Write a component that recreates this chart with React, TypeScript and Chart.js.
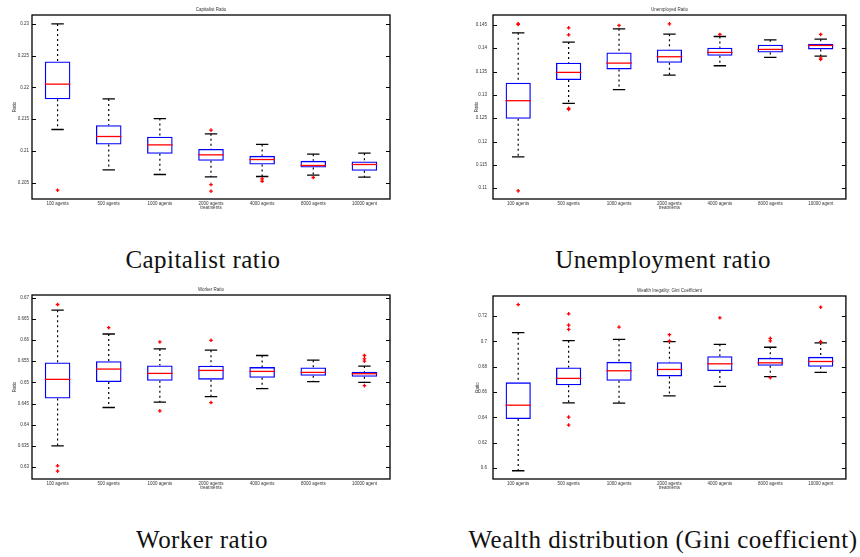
import React, { useEffect, useRef } from 'react';
import { Chart, registerables } from 'chart.js';

Chart.register(...registerables);

const categories = ['100 agents', '500 agents', '1000 agents', '2000 agents', '4000 agents', '8000 agents', '10000 agent'];

// Capitalist ratio
const capLower = [0.21335, 0.2070, 0.20626, 0.2059, 0.20595, 0.20616, 0.20584];
const capQ1 = [0.21813, 0.21099, 0.20952, 0.20841, 0.20784, 0.20736, 0.20684];
const capMedian = [0.2205, 0.21225, 0.21093, 0.20936, 0.20862, 0.20768, 0.20784];
const capQ3 = [0.22406, 0.21403, 0.2122, 0.2103, 0.2092, 0.20841, 0.2083];
const capUpper = [0.2300, 0.21818, 0.21508, 0.21267, 0.2110, 0.20946, 0.20962];
const capOutliers = [[0.20379], [], [], [0.21325, 0.20468, 0.20363], [0.20558, 0.2052], [0.20579], []];
const capTicks = [0.205, 0.21, 0.215, 0.22, 0.225, 0.23];
const capTickLabels = ['0.205', '0.21', '0.215', '0.22', '0.225', '0.23'];

// Unemployed ratio
const unLower = [0.1167, 0.12818, 0.1311, 0.13424, 0.13623, 0.13801, 0.1383];
const unQ1 = [0.1249, 0.13317, 0.13545, 0.13687, 0.13837, 0.13908, 0.13973];
const unMedian = [0.12875, 0.13481, 0.1368, 0.13816, 0.13908, 0.13973, 0.14058];
const unQ3 = [0.1326, 0.13687, 0.13908, 0.13973, 0.14008, 0.14072, 0.14094];
const unUpper = [0.14329, 0.1413, 0.14414, 0.143, 0.1425, 0.14179, 0.14193];
const unOutliers = [[0.1452, 0.1451, 0.10943], [0.14436, 0.14286, 0.12711, 0.1269], [0.14486], [0.1452], [0.14293], [], [0.14293, 0.13787, 0.13759]];
const unTicks = [0.11, 0.115, 0.12, 0.125, 0.13, 0.135, 0.14, 0.145];
const unTickLabels = ['0.11', '0.115', '0.12', '0.125', '0.13', '0.135', '0.14', '0.145'];

// Worker ratio
const wkLower = [0.635, 0.64406, 0.64531, 0.64664, 0.64852, 0.65016, 0.65];
const wkQ1 = [0.64617, 0.65008, 0.65039, 0.65063, 0.65109, 0.65156, 0.65133];
const wkMedian = [0.6507, 0.65313, 0.65211, 0.65281, 0.65258, 0.65234, 0.65203];
const wkQ3 = [0.65469, 0.655, 0.65398, 0.65391, 0.65359, 0.65352, 0.6525];
const wkUpper = [0.66703, 0.6614, 0.65789, 0.65758, 0.65633, 0.65523, 0.65383];
const wkOutliers = [[0.66836, 0.63031, 0.62906], [0.66289], [0.65953, 0.64328], [0.65992, 0.64523], [], [], [0.65633, 0.65555, 0.655, 0.64922]];
const wkTicks = [0.63, 0.635, 0.64, 0.645, 0.65, 0.655, 0.66, 0.665, 0.67];
const wkTickLabels = ['0.63', '0.635', '0.64', '0.645', '0.65', '0.655', '0.66', '0.665', '0.67'];

// Gini coefficient
const giLower = [0.59791, 0.6515, 0.65124, 0.65699, 0.66458, 0.67216, 0.67556];
const giQ1 = [0.63869, 0.66536, 0.66902, 0.67242, 0.6766, 0.68078, 0.68];
const giMedian = [0.64967, 0.67085, 0.67686, 0.67791, 0.68235, 0.68314, 0.68418];
const giQ3 = [0.66771, 0.67948, 0.68392, 0.68366, 0.68837, 0.68706, 0.68784];
const giUpper = [0.70693, 0.70065, 0.7017, 0.69987, 0.69778, 0.69542, 0.69882];
const giOutliers = [[0.72915], [0.72183, 0.71294, 0.70954, 0.64026, 0.63399], [0.71137], [0.70536, 0.70039], [0.71869], [0.70248, 0.70039, 0.67137], [0.72706, 0.69987]];
const giTicks = [0.6, 0.62, 0.64, 0.66, 0.68, 0.7, 0.72];
const giTickLabels = ['0.6', '0.62', '0.64', '0.66', '0.68', '0.7', '0.72'];

const SANS = "'Liberation Sans', Arial, sans-serif";
const SERIF = "'Liberation Serif', 'Times New Roman', serif";

type Panel = {
  title: string;
  lower: number[]; q1: number[]; median: number[]; q3: number[]; upper: number[];
  outliers: number[][];
  ticks: number[]; tickLabels: string[];
  min: number; max: number;
  left: number; top: number; height: number;
  padTop: number; padRight: number; yWidth: number; ratioX: number;
};

const panels: Panel[] = [
  { title: 'Capitalist Ratio', lower: capLower, q1: capQ1, median: capMedian, q3: capQ3, upper: capUpper, outliers: capOutliers, ticks: capTicks, tickLabels: capTickLabels, min: 0.2024, max: 0.2314, left: 0, top: 0, height: 215, padTop: 15, padRight: 40, yWidth: 32, ratioX: 15 },
  { title: 'Unemployed Ratio', lower: unLower, q1: unQ1, median: unMedian, q3: unQ3, upper: unUpper, outliers: unOutliers, ticks: unTicks, tickLabels: unTickLabels, min: 0.1077, max: 0.1471, left: 430, top: 0, height: 215, padTop: 15, padRight: 9, yWidth: 63, ratioX: 47 },
  { title: 'Worker Ratio', lower: wkLower, q1: wkQ1, median: wkMedian, q3: wkQ3, upper: wkUpper, outliers: wkOutliers, ticks: wkTicks, tickLabels: wkTickLabels, min: 0.6272, max: 0.6706, left: 0, top: 280, height: 216, padTop: 15, padRight: 40, yWidth: 32, ratioX: 15 },
  { title: 'Wealth Inegality: Gini Coefficient', lower: giLower, q1: giQ1, median: giMedian, q3: giQ3, upper: giUpper, outliers: giOutliers, ticks: giTicks, tickLabels: giTickLabels, min: 0.5914, max: 0.7359, left: 430, top: 280, height: 216, padTop: 16, padRight: 9, yWidth: 63, ratioX: 48 },
];

const captions = [
  { text: 'Capitalist ratio', cx: 203, top: 247 },
  { text: 'Unemployment ratio', cx: 663, top: 247 },
  { text: 'Worker ratio', cx: 202, top: 527 },
  { text: 'Wealth distribution (Gini coefficient)', cx: 663, top: 527 },
];

function BoxPanel({ p }: { p: Panel }) {
  const ref = useRef<HTMLCanvasElement | null>(null);
  useEffect(() => {
    if (!ref.current) return;
    const whiskers: any[] = [];
    const outlierPts: any[] = [];
    categories.forEach((c, i) => {
      whiskers.push({ x: c, y: p.upper[i] }, { x: c, y: p.q3[i] }, { x: c, y: null });
      whiskers.push({ x: c, y: p.q1[i] }, { x: c, y: p.lower[i] }, { x: c, y: null });
      p.outliers[i].forEach((v) => outlierPts.push({ x: c, y: v }));
    });
    const decor = {
      id: 'decor',
      afterDraw(chart: any) {
        const { ctx, chartArea } = chart;
        const { left, right, top, bottom } = chartArea;
        const yScale = chart.scales.y;
        ctx.save();
        ctx.strokeStyle = '#000';
        ctx.lineWidth = 1;
        yScale.ticks.forEach((t: any) => {
          const py = Math.round(yScale.getPixelForValue(t.value)) + 0.5;
          ctx.beginPath();
          ctx.moveTo(left, py); ctx.lineTo(left + 4, py);
          ctx.moveTo(right - 4, py); ctx.lineTo(right, py);
          ctx.stroke();
        });
        ctx.lineWidth = 1.3;
        ctx.strokeRect(left, top, right - left, bottom - top);
        ctx.fillStyle = '#333';
        ctx.font = `4.5px ${SANS}`;
        ctx.textAlign = 'center';
        ctx.textBaseline = 'middle';
        ctx.fillText(p.title, (left + right) / 2, top - 5);
        ctx.fillText('treatments', (left + right) / 2, bottom + 8.5);
        ctx.translate(p.ratioX, (top + bottom) / 2);
        ctx.rotate(-Math.PI / 2);
        ctx.fillText('Ratio', 0, 0);
        ctx.restore();
      },
    };
    const chart = new Chart(ref.current, {
      type: 'bar',
      data: {
        labels: categories,
        datasets: [
          {
            type: 'line', data: whiskers, order: 5, showLine: true, spanGaps: false,
            borderColor: '#000', borderWidth: 1.2, borderDash: [2, 3], pointRadius: 0,
          } as any,
          {
            type: 'bar', data: categories.map((_, i) => [p.q1[i], p.q3[i]]), order: 4,
            backgroundColor: 'rgba(255,255,255,0)', borderColor: '#0000ff', borderWidth: 1.3,
            borderSkipped: false, barPercentage: 0.5, categoryPercentage: 1,
          } as any,
          {
            type: 'line', data: p.upper, order: 3, showLine: false, pointStyle: 'line',
            pointRadius: 6.2, pointBorderColor: '#000', pointBorderWidth: 1.3, borderColor: '#000',
          } as any,
          {
            type: 'line', data: p.lower, order: 3, showLine: false, pointStyle: 'line',
            pointRadius: 6.2, pointBorderColor: '#000', pointBorderWidth: 1.3, borderColor: '#000',
          } as any,
          {
            type: 'line', data: p.median, order: 2, showLine: false, pointStyle: 'line',
            pointRadius: 12.8, pointBorderColor: '#ff0000', pointBorderWidth: 1.3, borderColor: '#ff0000',
          } as any,
          {
            type: 'line', data: outlierPts, order: 1, showLine: false, pointStyle: 'cross',
            pointRadius: 1.8, pointBorderColor: '#ff0000', pointBorderWidth: 1.3, borderColor: '#ff0000',
          } as any,
        ],
      },
      options: {
        responsive: false,
        animation: false,
        events: [],
        layout: { padding: { top: p.padTop, right: p.padRight, left: 0, bottom: 0 } },
        plugins: { legend: { display: false }, tooltip: { enabled: false }, title: { display: false } },
        scales: {
          x: {
            type: 'category', offset: true,
            grid: { display: false, drawTicks: false }, border: { display: false },
            ticks: { font: { family: SANS, size: 4.5 }, color: '#333', padding: 2, maxRotation: 0, autoSkip: false },
            afterFit: (s: any) => { s.height = p.height - 199; },
          },
          y: {
            type: 'linear', min: p.min, max: p.max,
            grid: { display: false, drawTicks: false }, border: { display: false },
            ticks: {
              font: { family: SANS, size: 4.5 }, color: '#333', padding: p.yWidth > 40 ? 6 : 3,
              callback: (v: any) => { const k = p.ticks.indexOf(v); return k >= 0 ? p.tickLabels[k] : ''; },
            },
            afterBuildTicks: (s: any) => { s.ticks = p.ticks.map((v) => ({ value: v })); },
            afterFit: (s: any) => { s.width = p.yWidth; },
          },
        },
      } as any,
      plugins: [decor],
    });
    return () => chart.destroy();
  }, [p]);
  return (
    <canvas
      ref={ref}
      width={430}
      height={p.height}
      style={{ position: 'absolute', left: p.left, top: p.top, width: 430, height: p.height }}
    />
  );
}

export default function App() {
  return (
    <div style={{ position: 'absolute', left: 0, top: 0, width: 860, height: 557, background: '#fff', overflow: 'hidden' }}>
      {panels.map((p, i) => <BoxPanel key={i} p={p} />)}
      {captions.map((c, i) => (
        <div
          key={i}
          style={{
            position: 'absolute', left: c.cx - 250, top: c.top, width: 500, textAlign: 'center',
            fontFamily: SERIF, fontSize: 25, lineHeight: '25px', letterSpacing: 0.45, color: '#111', whiteSpace: 'nowrap',
          }}
        >
          {c.text}
        </div>
      ))}
    </div>
  );
}
